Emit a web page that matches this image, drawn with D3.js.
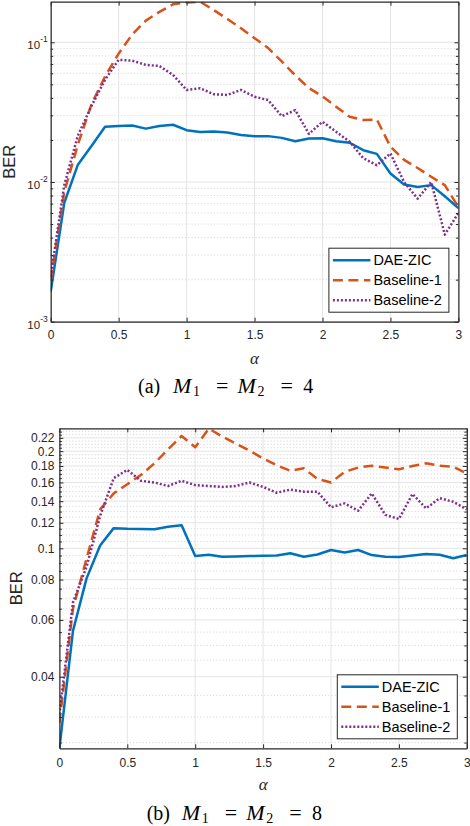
<!DOCTYPE html>
<html>
<head>
<meta charset="utf-8">
<script src="https://cdn.jsdelivr.net/npm/d3@7"></script>
<style>
  body { margin: 0; background: #fff; }
</style>
</head>
<body>
<script>

// ---- data ----
var alpha = [0, 0.1, 0.2, 0.3, 0.4, 0.5, 0.6, 0.7, 0.8, 0.9, 1.0,
             1.1, 1.2, 1.3, 1.4, 1.5, 1.6, 1.7, 1.8, 1.9, 2.0,
             2.1, 2.2, 2.3, 2.4, 2.5, 2.6, 2.7, 2.8, 2.9, 3.0];

var seriesNames = ["DAE-ZIC", "Baseline-1", "Baseline-2"];

// (a) M1 = M2 = 4
var daeA = [0.00164, 0.0071, 0.0133, 0.0181, 0.0249, 0.0252, 0.0254, 0.0241, 0.0252, 0.0257, 0.0235,
            0.0228, 0.0230, 0.0226, 0.0217, 0.0213, 0.0213, 0.0207, 0.0196, 0.0205, 0.0206,
            0.0196, 0.0191, 0.0169, 0.0159, 0.0115, 0.0096, 0.0092, 0.0095, 0.0079, 0.0065];
var base1A = [0.0020, 0.0085, 0.0185, 0.036, 0.057, 0.083, 0.114, 0.143, 0.165, 0.187, 0.193,
              0.195, 0.170, 0.147, 0.126, 0.107, 0.091, 0.073, 0.058, 0.047, 0.041,
              0.0346, 0.0293, 0.0278, 0.0280, 0.0179, 0.0144, 0.0126, 0.0109, 0.0095, 0.0066];
var base2A = [0.0021, 0.0095, 0.0215, 0.035, 0.054, 0.075, 0.0739, 0.0689, 0.0677, 0.0584, 0.0456,
              0.0469, 0.0425, 0.0420, 0.0456, 0.0408, 0.0386, 0.0296, 0.0327, 0.0221, 0.0270,
              0.0229, 0.0194, 0.0148, 0.0132, 0.0160, 0.0100, 0.0076, 0.0100, 0.0042, 0.0060];

// (b) M1 = M2 = 8
var daeB = [0.024, 0.0555, 0.0807, 0.102, 0.1155, 0.1150, 0.1148, 0.1146, 0.1167, 0.1178, 0.0946,
            0.0955, 0.0942, 0.0944, 0.0946, 0.0948, 0.0950, 0.0965, 0.0942, 0.0957, 0.0988,
            0.0970, 0.0988, 0.0953, 0.0942, 0.0940, 0.0950, 0.0960, 0.0955, 0.0932, 0.0953];
var base1B = [0.0288, 0.065, 0.093, 0.132, 0.148, 0.158, 0.1687, 0.1834, 0.2027, 0.2229, 0.2057,
              0.235, 0.222, 0.211, 0.2007, 0.190, 0.181, 0.174, 0.177, 0.164, 0.160,
              0.1726, 0.178, 0.1803, 0.178, 0.1757, 0.180, 0.1834, 0.1803, 0.179, 0.1707];
var base2B = [0.0306, 0.068, 0.0877, 0.126, 0.165, 0.175, 0.162, 0.160, 0.156, 0.162, 0.157,
              0.156, 0.155, 0.156, 0.160, 0.155, 0.1487, 0.152, 0.1498, 0.1498, 0.134,
              0.1378, 0.1308, 0.148, 0.127, 0.1233, 0.1474, 0.133, 0.143, 0.1394, 0.132];

// ---- ticks ----
var xTicks = [0, 0.5, 1, 1.5, 2, 2.5, 3];
var xTickLabels = ["0", "0.5", "1", "1.5", "2", "2.5", "3"];

var yTicksA = [0.001, 0.01, 0.1];
var yTickExpA = ["-3", "-2", "-1"];
var yMinorA = [0.002, 0.003, 0.004, 0.005, 0.006, 0.007, 0.008, 0.009,
               0.02, 0.03, 0.04, 0.05, 0.06, 0.07, 0.08, 0.09];

var yTicksB = [0.04, 0.06, 0.08, 0.1, 0.12, 0.14, 0.16, 0.18, 0.2, 0.22];
var yTickLabelsB = ["0.04", "0.06", "0.08", "0.1", "0.12", "0.14", "0.16", "0.18", "0.2", "0.22"];
var yMinorB = [0.025, 0.03, 0.035, 0.045, 0.05, 0.055, 0.065, 0.07, 0.075, 0.085, 0.09, 0.095,
               0.105, 0.11, 0.115, 0.125, 0.13, 0.135, 0.145, 0.15, 0.155, 0.165, 0.17, 0.175,
               0.185, 0.19, 0.195, 0.205, 0.21, 0.215, 0.225, 0.23];

// ---- styles ----
var colors = ["#0072BD", "#D95319", "#7E2F8E"];
var dashes = [null, "10,5.5", "2,2"];
var axisColor = "#262626";
var sansFont = "'Liberation Sans', Arial, Helvetica, sans-serif";
var serifFont = "'Liberation Serif', 'Times New Roman', serif";

var svg = d3.select("body").append("svg")
    .attr("width", 470)
    .attr("height", 826);

function drawPanel(p) {

    var x = d3.scaleLinear().domain([0, 3]).range([p.left, p.right]);
    var y = d3.scaleLog().domain(p.yDomain).range([p.bottom, p.top]);

    var g = svg.append("g");

    svg.append("clipPath").attr("id", "clip-" + p.id)
      .append("rect")
        .attr("x", p.left).attr("y", p.top)
        .attr("width", p.right - p.left).attr("height", p.bottom - p.top);

    //minor grid (dotted)
    g.selectAll(".minor").data(p.yMinor).enter().append("line")
        .attr("x1", p.left).attr("x2", p.right)
        .attr("y1", function(d) { return y(d); })
        .attr("y2", function(d) { return y(d); })
        .attr("stroke", "#d0d0d0")
        .attr("stroke-width", 0.8)
        .attr("stroke-dasharray", "1.2,2");

    //major grid
    g.selectAll(".gy").data(p.yTicks).enter().append("line")
        .attr("x1", p.left).attr("x2", p.right)
        .attr("y1", function(d) { return y(d); })
        .attr("y2", function(d) { return y(d); })
        .attr("stroke", "#e4e4e4")
        .attr("stroke-width", 1);
    g.selectAll(".gx").data(xTicks).enter().append("line")
        .attr("y1", p.top).attr("y2", p.bottom)
        .attr("x1", function(d) { return x(d); })
        .attr("x2", function(d) { return x(d); })
        .attr("stroke", "#e4e4e4")
        .attr("stroke-width", 1);

    //curves
    var line = d3.line()
        .x(function(d, i) { return x(alpha[i]); })
        .y(function(d) { return y(d); });

    p.series.forEach(function(s, k) {
      g.append("path").datum(s)
          .attr("d", line)
          .attr("fill", "none")
          .attr("stroke", colors[k])
          .attr("stroke-width", 2.5)
          .attr("stroke-linejoin", "round")
          .attr("stroke-dasharray", dashes[k])
          .attr("clip-path", "url(#clip-" + p.id + ")");
    });

    //axes, ticks point inwards
    function styleAxis(a) {
      a.attr("color", axisColor)
       .attr("font-family", sansFont)
       .attr("font-size", 12);
      a.select(".domain").attr("stroke-width", 1.2);
    }

    var bottomAxis = svg.append("g")
        .attr("transform", "translate(0," + p.bottom + ")")
        .call(d3.axisBottom(x).tickValues(xTicks)
              .tickFormat(function(d, i) { return xTickLabels[i]; })
              .tickSize(-4).tickSizeOuter(0).tickPadding(p.xPad));
    styleAxis(bottomAxis);

    var topAxis = svg.append("g")
        .attr("transform", "translate(0," + p.top + ")")
        .call(d3.axisTop(x).tickValues(xTicks).tickFormat("")
              .tickSize(-4).tickSizeOuter(0));
    styleAxis(topAxis);

    var leftAxis = svg.append("g")
        .attr("transform", "translate(" + p.left + ",0)")
        .call(d3.axisLeft(y).tickValues(p.yTicks)
              .tickFormat(function(d, i) { return p.yLabels ? p.yLabels[i] : "10"; })
              .tickSize(-4).tickSizeOuter(0).tickPadding(p.yPad));
    styleAxis(leftAxis);

    if (p.yExp) {
      leftAxis.selectAll(".tick text")
          .attr("font-size", 11.5)
          .attr("dy", "0.55em")
          .each(function(d, i) {
            d3.select(this).append("tspan")
                .attr("dy", -6.8)
                .attr("font-size", 8.5)
                .text(p.yExp[i]);
          });
    }

    var rightAxis = svg.append("g")
        .attr("transform", "translate(" + p.right + ",0)")
        .call(d3.axisRight(y).tickValues(p.yTicks).tickFormat("")
              .tickSize(-4).tickSizeOuter(0));
    styleAxis(rightAxis);

    [["left", d3.axisLeft, p.left], ["right", d3.axisRight, p.right]].forEach(function(a) {
      var m = svg.append("g")
          .attr("transform", "translate(" + a[2] + ",0)")
          .call(a[1](y).tickValues(p.yMinor).tickFormat("").tickSize(-2.5).tickSizeOuter(0));
      styleAxis(m);
      m.select(".domain").remove();
    });

    //axis titles
    svg.append("text")
        .attr("transform", "translate(" + p.berX + "," + ((p.top + p.bottom) / 2) + ") rotate(-90)")
        .attr("text-anchor", "middle")
        .attr("dominant-baseline", "central")
        .attr("font-family", sansFont)
        .attr("font-size", 16.5)
        .attr("fill", axisColor)
        .text("BER");

    svg.append("text")
        .attr("x", (p.left + p.right) / 2)
        .attr("y", p.bottom + 36.5)
        .attr("text-anchor", "middle")
        .attr("dominant-baseline", "central")
        .attr("font-family", serifFont)
        .attr("font-style", "italic")
        .attr("font-size", 17)
        .attr("fill", axisColor)
        .text("α");

    //legend
    var lw = 120, lh = 64;
    var lx = p.right - 9.5 - lw, ly = p.bottom - 9.5 - lh;
    var legend = svg.append("g").attr("transform", "translate(" + lx + "," + ly + ")");
    legend.append("rect")
        .attr("width", lw).attr("height", lh)
        .attr("fill", "#fff")
        .attr("stroke", axisColor)
        .attr("stroke-width", 1);
    seriesNames.forEach(function(name, k) {
      var ry = 12 + k * 20;
      legend.append("line")
          .attr("x1", 4).attr("x2", 41.5)
          .attr("y1", ry).attr("y2", ry)
          .attr("stroke", colors[k])
          .attr("stroke-width", 2.5)
          .attr("stroke-dasharray", dashes[k]);
      legend.append("text")
          .attr("x", 44.5).attr("y", ry)
          .attr("dominant-baseline", "central")
          .attr("font-family", sansFont)
          .attr("font-size", 14.5)
          .attr("fill", "#000")
          .text(name);
    });

    //caption, e.g. (a) M1 = M2 = 4
    var cap = svg.append("text")
        .attr("y", p.capY)
        .attr("font-family", serifFont)
        .attr("fill", "#000");
    // [x offset, text, subscript?, italic?, size]
    var parts = [
      [0, "(" + p.letter + ")", false, false, 20],
      [35, "M", false, true, 22],
      [55, "1", true, false, 14],
      [78, "=", false, false, 22],
      [99.5, "M", false, true, 22],
      [119.5, "2", true, false, 14],
      [142.5, "=", false, false, 22],
      [165.3, p.order, false, false, 20]
    ];
    parts.forEach(function(t) {
      cap.append("tspan")
          .attr("x", p.capX + t[0])
          .attr("y", t[2] ? p.capY + 3 : p.capY)
          .attr("font-size", t[4])
          .attr("font-style", t[3] ? "italic" : "normal")
          .text(t[1]);
    });
}

drawPanel({
  id: "a", left: 50.7, right: 458.4, top: 1.7, bottom: 321.7,
  yDomain: [0.001, 0.1953], yTicks: yTicksA, yMinor: yMinorA,
  yExp: yTickExpA, yLabels: null, xPad: 9, yPad: 3,
  series: [daeA, base1A, base2A], berX: 9,
  letter: "a", order: "4", capX: 138, capY: 393
});

drawPanel({
  id: "b", left: 59.4, right: 466.8, top: 428.3, bottom: 748.3,
  yDomain: [0.024, 0.2355], yTicks: yTicksB, yMinor: yMinorB,
  yExp: null, yLabels: yTickLabelsB, xPad: 10.5, yPad: 5,
  series: [daeB, base1B, base2B], berX: 15.5,
  letter: "b", order: "8", capX: 146.7, capY: 819.5
});

</script>
</body>
</html>
